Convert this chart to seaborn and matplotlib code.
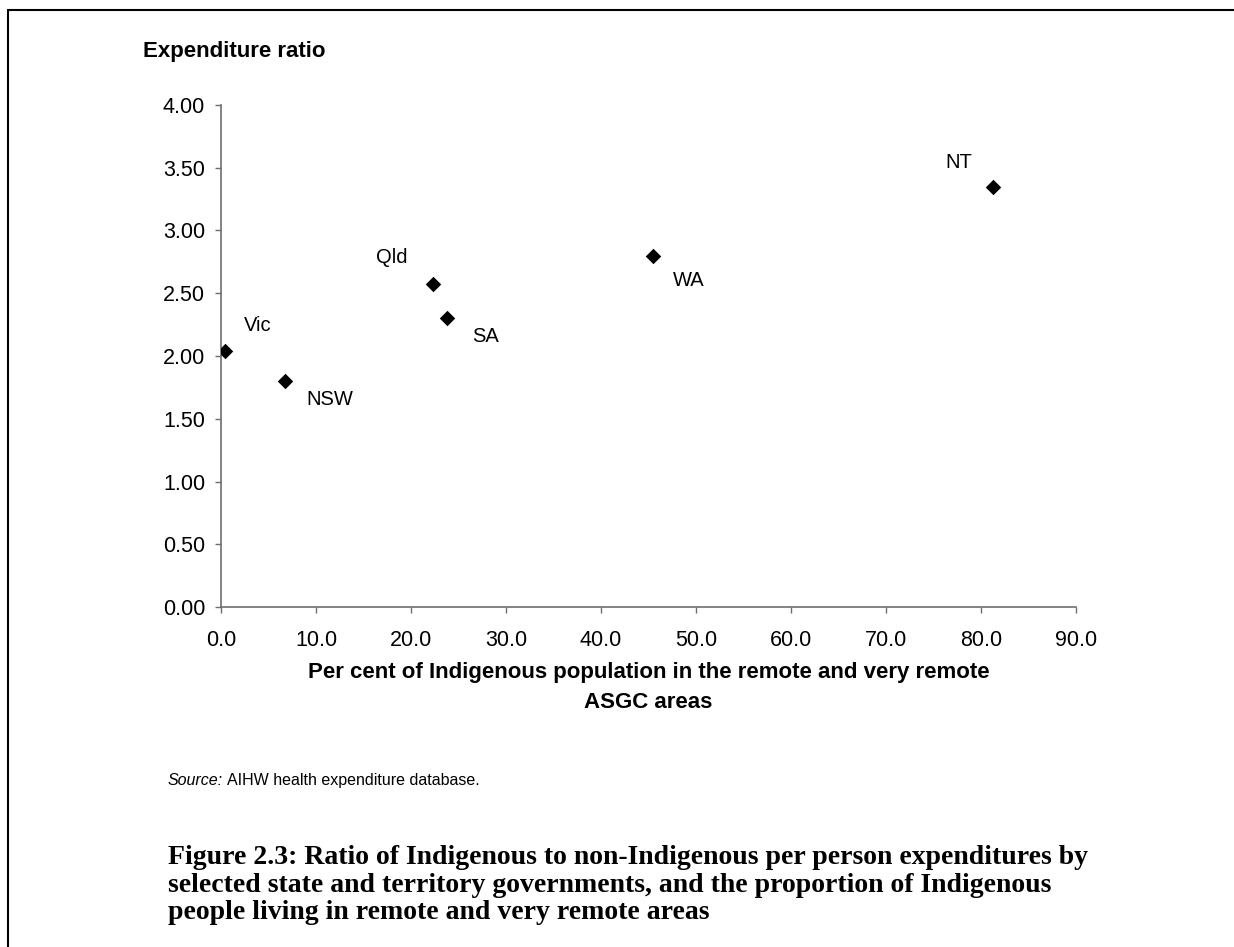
import matplotlib
matplotlib.use('Agg')
import matplotlib.pyplot as plt
from matplotlib.lines import Line2D
import seaborn as sns
import pandas as pd

# data
states = ['Vic', 'NSW', 'Qld', 'SA', 'WA', 'NT']
remote_pct = [0.4, 6.7, 22.3, 23.8, 45.5, 81.3]
exp_ratio = [2.04, 1.80, 2.57, 2.30, 2.80, 3.35]

x_ticks = [0, 10, 20, 30, 40, 50, 60, 70, 80, 90]
y_ticks = [0, 0.5, 1.0, 1.5, 2.0, 2.5, 3.0, 3.5, 4.0]

caption_lines = [
    'Figure 2.3: Ratio of Indigenous to non-Indigenous per person expenditures by',
    'selected state and territory governments, and the proportion of Indigenous',
    'people living in remote and very remote areas',
]

# label offsets (pixels) relative to each marker
label_offsets = {'Vic': (33, 25), 'NSW': (45, -18), 'Qld': (-41, 27),
                 'SA': (38, -18), 'WA': (35, -25), 'NT': (-35, 24)}

df = pd.DataFrame({'state': states, 'remote': remote_pct, 'ratio': exp_ratio})

sns.set_theme(style='white')
plt.rcParams['font.family'] = ['Liberation Sans', 'DejaVu Sans']
plt.rcParams['text.color'] = 'black'
plt.rcParams['axes.labelcolor'] = 'black'

W, H = 1234, 947
fig = plt.figure(figsize=(W / 100, H / 100), dpi=100)
ax = fig.add_axes([221 / W, 1 - 607 / H, (1076 - 221) / W, (607 - 105) / H])

sns.scatterplot(data=df, x='remote', y='ratio', marker='D', s=62,
                color='black', edgecolor='black', linewidth=0, ax=ax, zorder=3)

for _, r in df.iterrows():
    dx, dy = label_offsets[r['state']]
    ax.annotate(r['state'], (r['remote'], r['ratio']), xytext=(dx, dy),
                textcoords='offset pixels', ha='center', va='center',
                fontsize=14.5, color='black')

ax.set_xlim(0, 90)
ax.set_ylim(0, 4)
ax.set_xticks(x_ticks)
ax.set_yticks(y_ticks)
ax.set_xticklabels([f'{v:.1f}' for v in x_ticks])
ax.set_yticklabels([f'{v:.2f}' for v in y_ticks])
ax.tick_params(axis='both', which='major', direction='out', length=4.5,
               width=1, color='#6e6e6e', labelsize=15.5, labelcolor='black',
               bottom=True, left=True)
ax.tick_params(axis='y', pad=7)
ax.tick_params(axis='x', pad=12)

sns.despine(ax=ax)
for s in ['left', 'bottom']:
    ax.spines[s].set_color('#6e6e6e')
    ax.spines[s].set_linewidth(1.2)
ax.grid(False)

ax.set_xlabel('Per cent of Indigenous population in the remote and very remote\nASGC areas',
              fontsize=16, fontweight='bold', linespacing=1.55, va='top')
ax.xaxis.set_label_coords(0.5, -(662 - 607) / 502)
ax.set_ylabel('Expenditure ratio', fontsize=16, fontweight='bold',
              rotation=0, ha='left', va='center')
ax.yaxis.set_label_coords((143 - 221) / 855, (607 - 51) / 502)

src = fig.text(168 / W, 1 - 780 / H, 'Source:', fontsize=11.5, style='italic',
               va='center')
ax.annotate('AIHW health expenditure database.', xy=(1, 0.5), xycoords=src,
            xytext=(4, 0), textcoords='offset pixels', fontsize=11.5,
            va='center', ha='left', annotation_clip=False)

for i, line in enumerate(caption_lines):
    fig.text(168 / W, 1 - (864 + 27.5 * i) / H, line,
             family=['Liberation Serif', 'DejaVu Serif'], fontweight='bold',
             fontsize=20, va='baseline')

# page frame (top and left edges)
fig.add_artist(Line2D([8 / W, 1], [1 - 10 / H, 1 - 10 / H], color='black', lw=1.5))
fig.add_artist(Line2D([8 / W, 8 / W], [1 - 10 / H, 0], color='black', lw=1.5))

fig.savefig('out.png', dpi=100)
